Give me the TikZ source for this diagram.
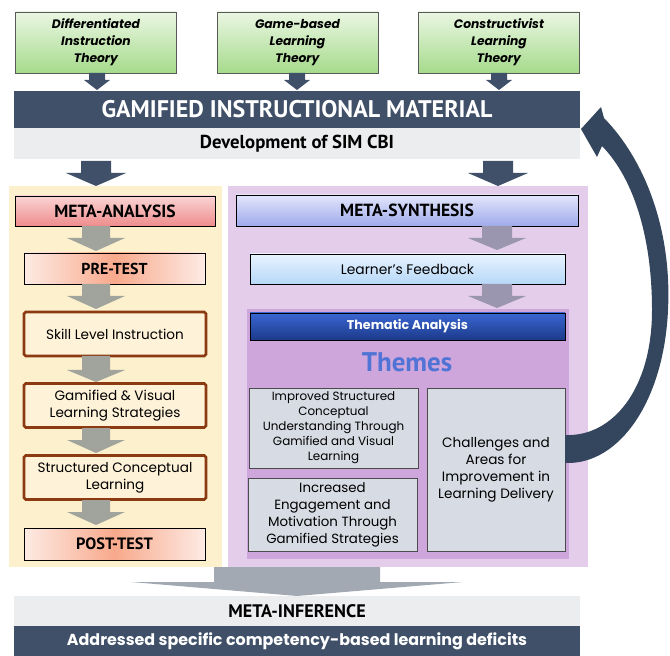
\documentclass[tikz,border=0pt]{standalone}
\usepackage{fontspec}
\setmainfont{Poppins}
\newfontfamily\headfont{PT Sans}
\usetikzlibrary{calc}
\definecolor{navy}{HTML}{3F5068}
\definecolor{barbg}{HTML}{ECEDEF}
\definecolor{theorytop}{HTML}{EAF6E2}
\definecolor{theorybot}{HTML}{A6DB8C}
\definecolor{panelA}{HTML}{FDF0CD}
\definecolor{panelB}{HTML}{E3CDEB}
\definecolor{panelC}{HTML}{CFA6DC}
\definecolor{stepfill}{HTML}{FEF2D8}
\definecolor{stepline}{HTML}{8B3A12}
\definecolor{themefill}{HTML}{D7DBE3}
\definecolor{flowA}{HTML}{A0A49D}
\definecolor{flowB}{HTML}{9A96B0}
\definecolor{flowC}{HTML}{A3A9B3}
\definecolor{loopcol}{HTML}{34465E}
\definecolor{anatop}{HTML}{FAD4D4}
\definecolor{anabot}{HTML}{EF8C8C}
\definecolor{testmid}{HTML}{F8A98C}
\definecolor{testside}{HTML}{FDEBE4}
\definecolor{syntop}{HTML}{E2E5FB}
\definecolor{synbot}{HTML}{A0ABEC}
\definecolor{fbtop}{HTML}{E8F3FE}
\definecolor{fbbot}{HTML}{B6D8F8}
\definecolor{tatop}{HTML}{3A66D2}
\definecolor{tabot}{HTML}{1C3A8A}
\definecolor{themeword}{HTML}{4F74D6}

\newlength\px
\setlength\px{0.03cm}

% block arrow: colour, x, top, head start, tip, half shaft, half head
\newcommand{\blockarrow}[7]{%
  \fill[#1] (#2-#6,#3) -- (#2+#6,#3) -- (#2+#6,#4) -- (#2+#7,#4) -- (#2,#5)
    -- (#2-#7,#4) -- (#2-#6,#4) -- cycle;}

\begin{document}
\begin{tikzpicture}[x=0.03cm, y=-0.03cm,
  theory/.style={draw=gray!70!black, top color=theorytop, bottom color=theorybot,
    minimum width=161\px, minimum height=61\px, inner sep=0pt, align=center,
    font=\fontsize{10.5}{14.5}\selectfont\bfseries\itshape},
  bar/.style={minimum width=566\px, inner sep=0pt},
  phase/.style={draw=black, line width=0.8pt, inner sep=0pt,
    font=\headfont\fontsize{15}{17}\selectfont\bfseries},
  stepbox/.style={draw=stepline, line width=2.2pt, rounded corners=1.5pt, fill=stepfill,
    minimum width=182\px, minimum height=44\px, inner sep=0pt, align=center,
    font=\fontsize{11.6}{14.5}\selectfont},
  theme/.style={draw=black!70, fill=themefill, inner sep=0pt, align=center}]

  \useasboundingbox (0,0) rectangle (670,656);

  % theories
  \node[theory] (dit) at (96,42.5) {Differentiated\\Instruction\\Theory};
  \node[theory] (gbl) at (297.5,42.5) {Game-based\\Learning\\Theory};
  \node[theory] (clt) at (499,42.5) {Constructivist\\Learning\\Theory};
  \foreach \x in {97,297,499} {
    \blockarrow{navy}{\x}{73}{80}{90}{8}{13}
  }

  % instructional material
  \node[bar, fill=navy, minimum height=37\px, text=white,
    font=\headfont\fontsize{20.5}{22}\selectfont\bfseries] (gim) at (297,109.5)
    {GAMIFIED INSTRUCTIONAL MATERIAL};
  \node[bar, fill=barbg, minimum height=31\px,
    font=\headfont\fontsize{16}{18}\selectfont\bfseries] (dev) at (297,143.5)
    {Development of SIM CBI};
  \blockarrow{navy}{96}{161}{173}{186}{15}{30}
  \blockarrow{navy}{498}{161}{173}{186}{15}{30}

  % panels
  \fill[panelA] (9,186) rectangle (222,567);
  \fill[panelB] (228,186) rectangle (588,567);
  \fill[panelC] (247,309) rectangle (569,559);

  % quantitative strand
  \node[phase, top color=anatop, bottom color=anabot,
    minimum width=200\px, minimum height=30\px] (ma) at (115,211) {META-ANALYSIS};
  \node[phase, left color=testside, right color=testside, middle color=testmid,
    minimum width=181\px, minimum height=31\px,
    font=\headfont\fontsize{13.5}{15}\selectfont\bfseries] (pre) at (114.5,268.5) {PRE-TEST};
  \node[stepbox] (sli) at (115,334) {Skill Level Instruction};
  \node[stepbox] (gvl) at (115,405.5) {Gamified \& Visual\\Learning Strategies};
  \node[stepbox] (scl) at (115,477.5) {Structured Conceptual\\Learning};
  \node[phase, left color=testside, right color=testside, middle color=testmid,
    minimum width=181\px, minimum height=32\px,
    font=\headfont\fontsize{14}{16}\selectfont\bfseries] (post) at (114.5,544) {POST-TEST};
  \blockarrow{flowA}{96}{226}{238}{251}{14}{29}
  \blockarrow{flowA}{96}{284}{296}{309}{14}{29}
  \blockarrow{flowA}{96}{356}{370}{382}{14}{29}
  \blockarrow{flowA}{96}{428}{440}{453}{14}{29}
  \blockarrow{flowA}{96}{500}{512}{525}{14}{29}

  % qualitative strand
  \node[phase, top color=syntop, bottom color=synbot,
    minimum width=342\px, minimum height=31\px] (ms) at (407,210.5) {META-SYNTHESIS};
  \node[draw=black, line width=0.8pt, top color=fbtop, bottom color=fbbot,
    minimum width=315\px, minimum height=30\px, inner sep=0pt,
    font=\fontsize{11.8}{13}\selectfont] (lf) at (407.5,269) {Learner’s Feedback};
  \blockarrow{flowB}{497}{226}{238}{250}{15}{29}
  \blockarrow{flowB}{497}{284}{296}{308}{15}{29}
  \node[draw=black, line width=0.8pt, top color=tatop, bottom color=tabot,
    minimum width=315\px, minimum height=27\px, inner sep=0pt, text=white,
    font=\fontsize{10.8}{12}\selectfont\bfseries] (ta) at (407.5,326.5) {Thematic Analysis};
  \node[text=themeword, font=\headfont\fontsize{23}{24}\selectfont\bfseries]
    (th) at (407,362) {Themes};
  \node[theme, minimum width=169\px, minimum height=80\px,
    font=\fontsize{10.2}{12.8}\selectfont] (t1) at (333.5,428)
    {Improved Structured\\Conceptual\\Understanding Through\\Gamified and Visual\\Learning};
  \node[theme, minimum width=169\px, minimum height=73\px,
    font=\fontsize{11.4}{14.5}\selectfont] (t2) at (332.5,514.5)
    {Increased\\Engagement and\\Motivation Through\\Gamified Strategies};
  \node[theme, minimum width=138\px, minimum height=163\px,
    font=\fontsize{11.6}{14.5}\selectfont] (t3) at (496,469.5)
    {Challenges and\\Areas for\\Improvement in\\Learning Delivery};

  % feedback loop back to the material
  \fill[loopcol] (581,129) -- (601,107) -- (604,118)
    .. controls (645,160) and (672,230) .. (668,310)
    .. controls (664,400) and (620,465) .. (t3.east |- 0,463)
    -- (t3.east |- 0,435)
    .. controls (612,437) and (652,390) .. (652,310)
    .. controls (652,240) and (635,180) .. (602,146)
    -- (597,157) -- cycle;

  % meta-inference
  \blockarrow{flowC}{297}{567}{582}{596}{83}{166}
  \node[bar, fill=barbg, minimum height=30\px,
    font=\headfont\fontsize{15.5}{17}\selectfont\bfseries] (mi) at (297,611) {META-INFERENCE};
  \node[bar, fill=navy, minimum height=30\px, text=white,
    font=\fontsize{13.6}{15}\selectfont\bfseries] (ad) at (297,641)
    {Addressed specific competency-based learning deficits};
\end{tikzpicture}
\end{document}
